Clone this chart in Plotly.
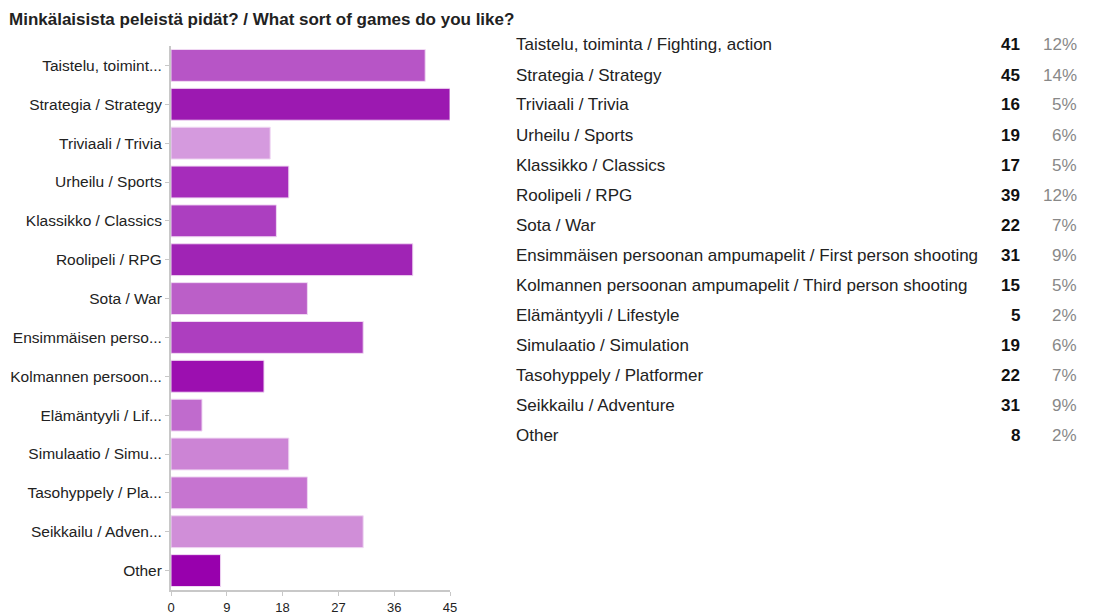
import plotly.graph_objects as go

title = "Minkälaisista peleistä pidät? / What sort of games do you like?"
categories = [
    "Taistelu, toiminta / Fighting, action",
    "Strategia / Strategy",
    "Triviaali / Trivia",
    "Urheilu / Sports",
    "Klassikko / Classics",
    "Roolipeli / RPG",
    "Sota / War",
    "Ensimmäisen persoonan ampumapelit / First person shooting",
    "Kolmannen persoonan ampumapelit / Third person shooting",
    "Elämäntyyli / Lifestyle",
    "Simulaatio / Simulation",
    "Tasohyppely / Platformer",
    "Seikkailu / Adventure",
    "Other",
]
short_labels = [
    "Taistelu, toimint...",
    "Strategia / Strategy",
    "Triviaali / Trivia",
    "Urheilu / Sports",
    "Klassikko / Classics",
    "Roolipeli / RPG",
    "Sota / War",
    "Ensimmäisen perso...",
    "Kolmannen persoon...",
    "Elämäntyyli / Lif...",
    "Simulaatio / Simu...",
    "Tasohyppely / Pla...",
    "Seikkailu / Adven...",
    "Other",
]
values = [41, 45, 16, 19, 17, 39, 22, 31, 15, 5, 19, 22, 31, 8]
percents = ["12%", "14%", "5%", "6%", "5%", "12%", "7%", "9%", "5%", "2%", "6%", "7%", "9%", "2%"]
colors = [
    "#b755c6", "#9c19b1", "#d59ade", "#a62cbb", "#ac3fc0", "#a024b5", "#bb5fc8",
    "#ad3ebf", "#9c0fb0", "#c06bcd", "#cc84d5", "#c674d0", "#d08ed8", "#9800ad",
]
x_ticks = [0, 9, 18, 27, 36, 45]

W, H = 1093, 615
L, R, T, B = 171, 450, 46, 590

fig = go.Figure(go.Bar(
    x=values,
    y=short_labels,
    orientation="h",
    width=0.82,
    marker=dict(color=colors, line=dict(color="#f0d8f3", width=1)),
    hoverinfo="x+y",
))

def px(xp):
    return (xp - L) / (R - L)

def py(yp):
    return 1 - (yp - T) / (B - T)

FONT = "Liberation Sans, Arial, sans-serif"
ann = []
ann.append(dict(text="<b>" + title + "</b>", x=px(7), y=py(20), xref="paper", yref="paper",
                xanchor="left", yanchor="middle", showarrow=False,
                font=dict(family=FONT, size=17, color="#222222")))
row0, step = 45, 30
for i, (c, v, p) in enumerate(zip(categories, values, percents)):
    yy = py(row0 + i * step)
    ann.append(dict(text=c, x=px(514), y=yy, xref="paper", yref="paper",
                    xanchor="left", yanchor="middle", showarrow=False,
                    font=dict(family=FONT, size=17, color="#222222")))
    ann.append(dict(text="<b>%d</b>" % v, x=px(1022), y=yy, xref="paper", yref="paper",
                    xanchor="right", yanchor="middle", showarrow=False,
                    font=dict(family=FONT, size=17, color="#111111")))
    ann.append(dict(text=p, x=px(1079), y=yy, xref="paper", yref="paper",
                    xanchor="right", yanchor="middle", showarrow=False,
                    font=dict(family=FONT, size=17, color="#888888")))

fig.update_layout(
    width=W, height=H,
    margin=dict(l=L, r=W - R, t=T, b=H - B, pad=0),
    paper_bgcolor="white", plot_bgcolor="white",
    showlegend=False,
    annotations=ann,
    font=dict(family=FONT, size=15, color="#222222"),
    xaxis=dict(range=[0, 45], tickvals=x_ticks, showgrid=False, zeroline=False,
               automargin=False,
               showline=True, linecolor="#c8c8c8", linewidth=2,
               ticks="outside", ticklen=4, tickcolor="#c8c8c8",
               tickfont=dict(family=FONT, size=13, color="#222222"), fixedrange=True),
    yaxis=dict(autorange="reversed", showgrid=False, zeroline=False,
               automargin=False,
               showline=True, linecolor="#c8c8c8", linewidth=2,
               ticks="outside", ticklen=4, tickcolor="#c8c8c8",
               tickfont=dict(family=FONT, size=15.5, color="#222222"), fixedrange=True),
)

fig.write_html("out.html")
